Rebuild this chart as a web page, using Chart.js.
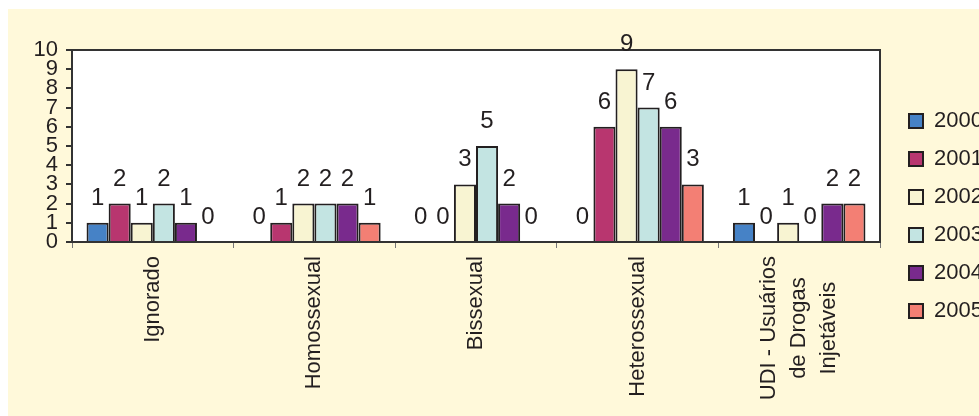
<!DOCTYPE html>
<html>
<head>
<meta charset="utf-8">
<style>
  html, body { margin: 0; padding: 0; background: #ffffff; }
  canvas { display: block; }
</style>
<script src="https://cdn.jsdelivr.net/npm/chart.js@4/dist/chart.umd.min.js"></script>
</head>
<body>
<canvas id="chart" width="979" height="416"></canvas>
<script>
// Categorias de exposição (rótulos com quebra de linha)
const categories = [
  ['Ignorado'],
  ['Homossexual'],
  ['Bissexual'],
  ['Heterossexual'],
  ['UDI - Usuários', 'de Drogas', 'Injetáveis']
];

// Anos da série
const years = ['2000', '2001', '2002', '2003', '2004', '2005'];

// Casos por ano, na ordem das categorias
const cases2000 = [1, 0, 0, 0, 1];
const cases2001 = [2, 1, 0, 6, 0];
const cases2002 = [1, 2, 3, 9, 1];
const cases2003 = [2, 2, 5, 7, 0];
const cases2004 = [1, 2, 2, 6, 2];
const cases2005 = [0, 1, 0, 3, 2];

// Eixo Y: 0 a 10, de 1 em 1
const yMin = 0;
const yMax = 10;
const yStep = 1;

const seriesValues = [cases2000, cases2001, cases2002, cases2003, cases2004, cases2005];
const seriesColors = ['#4682c6', '#b8366f', '#f8f4d2', '#c3e4e2', '#792a8d', '#f37f74'];

const FONT = '"Liberation Sans", Arial, sans-serif';
const INK = '#231f20';

// Fundo creme, área de plotagem branca
const backdrop = {
  id: 'backdrop',
  beforeDraw(chart) {
    const { ctx, width, height, chartArea: a } = chart;
    ctx.save();
    ctx.fillStyle = '#ffffff';
    ctx.fillRect(0, 0, width, height);
    ctx.fillStyle = '#fff9da';
    ctx.fillRect(8, 9, width - 8, height - 9);
    ctx.fillStyle = '#ffffff';
    ctx.fillRect(a.left, a.top, a.right - a.left, a.bottom - a.top);
    ctx.restore();
  }
};

// Moldura da área de plotagem e valores acima das barras
const frameAndValues = {
  id: 'frameAndValues',
  afterDatasetsDraw(chart) {
    const { ctx, chartArea: a } = chart;
    ctx.save();
    ctx.strokeStyle = '#333333';
    ctx.lineWidth = 2;
    ctx.strokeRect(a.left, a.top, a.right - a.left, a.bottom - a.top);

    ctx.font = '24px ' + FONT;
    ctx.fillStyle = INK;
    ctx.textAlign = 'center';
    ctx.textBaseline = 'alphabetic';
    chart.data.datasets.forEach((ds, di) => {
      const meta = chart.getDatasetMeta(di);
      meta.data.forEach((bar, i) => {
        ctx.fillText(String(ds.data[i]), bar.x, bar.y - 18);
      });
    });
    ctx.restore();
  }
};

// Rótulos das categorias, girados 90°, linhas centralizadas entre si
const categoryLabels = {
  id: 'categoryLabels',
  afterDraw(chart) {
    const { ctx } = chart;
    const x = chart.scales.x;
    ctx.save();
    ctx.font = '22px ' + FONT;
    ctx.fillStyle = INK;
    ctx.textAlign = 'center';
    ctx.textBaseline = 'middle';
    const lineGap = 30;
    chart.data.labels.forEach((lines, i) => {
      const cx = x.getPixelForValue(i);
      const w = Math.max(...lines.map(l => ctx.measureText(l).width));
      const top = x.top + 14;
      lines.forEach((line, j) => {
        const lx = cx + (j - (lines.length - 1) / 2) * lineGap;
        ctx.save();
        ctx.translate(lx, top + w / 2);
        ctx.rotate(-Math.PI / 2);
        ctx.fillText(line, 0, 0);
        ctx.restore();
      });
    });
    ctx.restore();
  }
};

new Chart(document.getElementById('chart'), {
  type: 'bar',
  data: {
    labels: categories,
    datasets: years.map((y, i) => ({
      label: y,
      data: seriesValues[i],
      backgroundColor: seriesColors[i],
      borderColor: INK,
      borderWidth: 2,
      borderSkipped: 'start',
      categoryPercentage: 0.82,
      barPercentage: 1.0
    }))
  },
  options: {
    responsive: false,
    animation: false,
    devicePixelRatio: 1,
    layout: { padding: { top: 50, bottom: 34, left: 0, right: 0 } },
    plugins: {
      tooltip: { enabled: false },
      legend: {
        position: 'right',
        align: 'center',
        maxWidth: 86,
        labels: {
          boxWidth: 14,
          boxHeight: 14,
          padding: 16,
          color: INK,
          font: { family: FONT, size: 22 }
        }
      }
    },
    scales: {
      x: {
        offset: true,
        grid: {
          offset: true,
          drawOnChartArea: false,
          drawTicks: true,
          tickLength: 6,
          color: '#777777',
          lineWidth: 1
        },
        border: { display: false },
        ticks: { display: false },
        afterFit(s) { s.height = 140; }
      },
      y: {
        min: yMin,
        max: yMax,
        ticks: {
          stepSize: yStep,
          autoSkip: false,
          padding: 8,
          color: INK,
          font: { family: FONT, size: 22, lineHeight: 1 }
        },
        grid: {
          drawOnChartArea: false,
          drawTicks: true,
          tickLength: 6,
          color: '#333333',
          lineWidth: 2
        },
        border: { display: false },
        afterFit(s) { s.width = 72; }
      },
      gap: {
        type: 'linear',
        position: 'right',
        display: true,
        min: yMin,
        max: yMax,
        grid: { display: false },
        ticks: { display: false },
        border: { display: false },
        afterFit(s) { s.width = 13; }
      }
    }
  },
  plugins: [backdrop, frameAndValues, categoryLabels]
});
</script>
</body>
</html>
